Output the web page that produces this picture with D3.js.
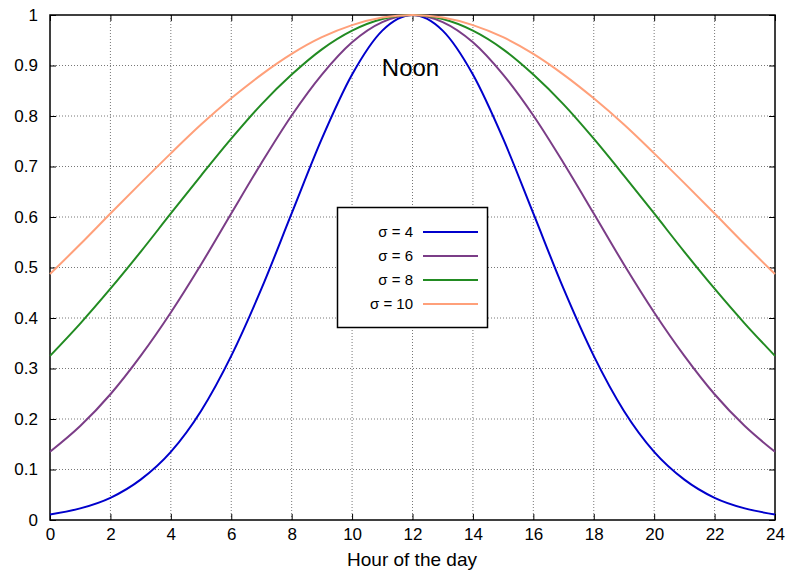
<!DOCTYPE html>
<html>
<head>
<meta charset="utf-8">
<script src="https://cdn.jsdelivr.net/npm/d3@7"></script>
<style>
body{margin:0;background:#fff}
text{font-family:"Liberation Sans",Arial,sans-serif}
</style>
</head>
<body>
<svg></svg>
<script>
var hours=[0,1,2,3,4,5,6,7,8,9,10,11,12,13,14,15,16,17,18,19,20,21,22,23,24]
var sigma4=[0.011,0.023,0.044,0.080,0.135,0.216,0.325,0.458,0.607,0.755,0.882,0.969,1,0.969,0.882,0.755,0.607,0.458,0.325,0.216,0.135,0.080,0.044,0.023,0.011]
var sigma6=[0.135,0.186,0.249,0.325,0.411,0.506,0.607,0.707,0.801,0.882,0.946,0.986,1,0.986,0.946,0.882,0.801,0.707,0.607,0.506,0.411,0.325,0.249,0.186,0.135]
var sigma8=[0.325,0.389,0.458,0.531,0.607,0.682,0.755,0.823,0.882,0.932,0.969,0.992,1,0.992,0.969,0.932,0.882,0.823,0.755,0.682,0.607,0.531,0.458,0.389,0.325]
var sigma10=[0.487,0.546,0.607,0.667,0.726,0.783,0.835,0.882,0.923,0.956,0.980,0.995,1,0.995,0.980,0.956,0.923,0.882,0.835,0.783,0.726,0.667,0.607,0.546,0.487]
var seriesNames=["σ = 4","σ = 6","σ = 8","σ = 10"]
var colors=["#0000cc","#7b3d87","#228b22","#ffa07a"]
var xTicks=d3.range(0,25,2)
var yTicks=d3.range(0,1.01,0.1)

var screen={width:788,height:572}
var plot={left:50,right:775,top:15,bottom:520}

var svg=d3.select("svg")
  .attr("width",screen.width)
  .attr("height",screen.height)

var xScale=d3.scaleLinear().domain([0,24]).range([plot.left,plot.right])
var yScale=d3.scaleLinear().domain([0,1]).range([plot.bottom,plot.top])

// grid
svg.append("g").selectAll("line")
  .data(xTicks.slice(1,-1))
  .enter().append("line")
  .attr("x1",function(d){return xScale(d)})
  .attr("x2",function(d){return xScale(d)})
  .attr("y1",plot.top).attr("y2",plot.bottom)
  .attr("stroke","#777").attr("stroke-dasharray","1,2")
svg.append("g").selectAll("line")
  .data(yTicks.slice(1,-1))
  .enter().append("line")
  .attr("y1",function(d){return yScale(d)})
  .attr("y2",function(d){return yScale(d)})
  .attr("x1",plot.left).attr("x2",plot.right)
  .attr("stroke","#777").attr("stroke-dasharray","1,2")

// axes with inward ticks
var xAxis=svg.append("g").attr("transform","translate(0,"+plot.bottom+")")
  .call(d3.axisBottom(xScale).tickValues(xTicks).tickSize(-6).tickPadding(8))
var xTop=svg.append("g").attr("transform","translate(0,"+plot.top+")")
  .call(d3.axisTop(xScale).tickValues(xTicks).tickSize(-6).tickFormat(""))
var yAxis=svg.append("g").attr("transform","translate("+plot.left+",0)")
  .call(d3.axisLeft(yScale).tickValues(yTicks).tickSize(-6).tickPadding(12).tickFormat(function(d){return d3.format("~g")(+d.toFixed(1))}))
var yRight=svg.append("g").attr("transform","translate("+plot.right+",0)")
  .call(d3.axisRight(yScale).tickValues(yTicks).tickSize(-6).tickFormat(""))
svg.selectAll(".domain").remove()
svg.selectAll(".tick line").attr("stroke","#000")
svg.selectAll(".tick text").attr("font-size",17).attr("fill","#000")
  .style("font-family","'Liberation Sans',Arial,sans-serif")

svg.append("rect")
  .attr("x",plot.left).attr("y",plot.top)
  .attr("width",plot.right-plot.left).attr("height",plot.bottom-plot.top)
  .attr("fill","none").attr("stroke","#000").attr("stroke-width",1.5)

// curves
var allSeries=[sigma4,sigma6,sigma8,sigma10]
var line=d3.line()
  .x(function(d,i){return xScale(hours[i])})
  .y(function(d){return yScale(d)})
  .curve(d3.curveMonotoneX)
svg.append("g").selectAll("path")
  .data(allSeries)
  .enter().append("path")
  .attr("d",line)
  .attr("fill","none")
  .attr("stroke",function(d,i){return colors[i]})
  .attr("stroke-width",2)

svg.append("text")
  .attr("x",xScale(12)-2).attr("y",yScale(0.88))
  .attr("text-anchor","middle").attr("font-size",24)
  .text("Noon")

svg.append("text")
  .attr("x",412).attr("y",566)
  .attr("text-anchor","middle").attr("font-size",19)
  .text("Hour of the day")

// legend
var legend=svg.append("g")
legend.append("rect")
  .attr("x",337.5).attr("y",207.5).attr("width",150).attr("height",120)
  .attr("fill","#fff").attr("stroke","#000").attr("stroke-width",1.5)
var rows=legend.selectAll("g.row")
  .data(seriesNames)
  .enter().append("g")
  .attr("transform",function(d,i){return "translate(0,"+(232+i*24)+")"})
rows.append("text")
  .attr("x",413).attr("y",5)
  .attr("text-anchor","end").attr("font-size",15)
  .text(function(d){return d})
rows.append("line")
  .attr("x1",423).attr("x2",478)
  .attr("stroke",function(d,i){return colors[i]})
  .attr("stroke-width",2)
</script>
</body>
</html>
